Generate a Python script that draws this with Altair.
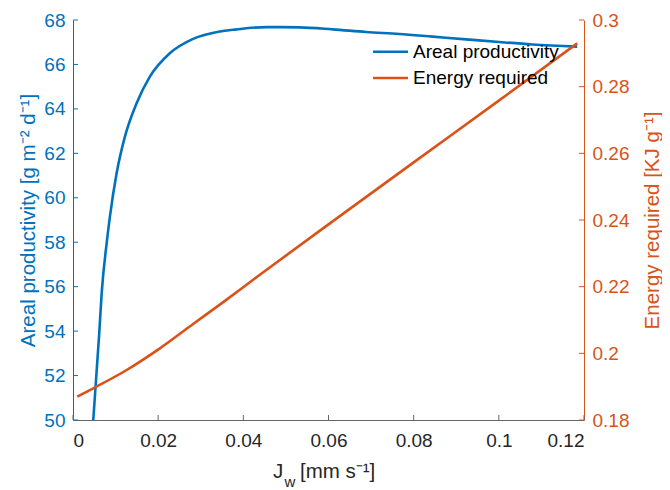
import altair as alt
import pandas as pd

# ---- data ----
jw_prod = [0.00476, 0.00616, 0.00673, 0.0079, 0.00867, 0.01024, 0.01219, 0.01493,
           0.01805, 0.02273, 0.0282, 0.03445, 0.0376, 0.0454, 0.0532, 0.061, 0.0688,
           0.0766, 0.0845, 0.0923, 0.1001, 0.1079, 0.1184]
prod = [50.0, 53.9, 55.7, 57.95, 59.15, 61.1, 62.75, 64.25,
        65.45, 66.5, 67.15, 67.48, 67.56, 67.68, 67.67, 67.58, 67.46,
        67.37, 67.25, 67.13, 67.01, 66.9, 66.8]

jw_en = [0.001, 0.00476, 0.0126, 0.0204, 0.0282, 0.0352, 0.0438, 0.06, 0.08, 0.1, 0.1184]
energy = [0.187, 0.1895, 0.195, 0.2015, 0.2088, 0.2153, 0.2235, 0.2387, 0.2573, 0.2758, 0.293]

x_ticks = [0, 0.02, 0.04, 0.06, 0.08, 0.1, 0.12]
left_ticks = [50, 52, 54, 56, 58, 60, 62, 64, 66, 68]
right_ticks = [0.18, 0.2, 0.22, 0.24, 0.26, 0.28, 0.3]

series = ["Areal productivity", "Energy required"]
BLUE = "#0072BD"
ORANGE = "#D95319"
GREY = "#262626"
FONT = "Liberation Sans"
LBL = 19
TTL = 20.5

W, H = 511, 400

df_p = pd.DataFrame({"jw": jw_prod, "val": prod, "series": series[0]})
df_e = pd.DataFrame({"jw": jw_en, "val": energy, "series": series[1]})
df_xt = pd.DataFrame({"t": x_ticks})
df_lt = pd.DataFrame({"t": left_ticks})
df_rt = pd.DataFrame({"t": right_ticks})
one = pd.DataFrame({"k": [0]})

xscale = alt.Scale(domain=[0, 0.12], nice=False, zero=False)
cscale = alt.Scale(domain=series, range=[BLUE, ORANGE])

xaxis = alt.Axis(values=x_ticks, format="~g", labelFontSize=LBL, labelFont=FONT,
                 labelColor=GREY, domainColor="#666666", tickSize=0,
                 labelPadding=11, title=None, grid=False, domainWidth=1)

blue_line = alt.Chart(df_p).mark_line(strokeWidth=2.6, interpolate="monotone").encode(
    x=alt.X("jw:Q", scale=xscale, axis=xaxis),
    y=alt.Y("val:Q", scale=alt.Scale(domain=[50, 68], nice=False, zero=False),
            axis=alt.Axis(values=left_ticks, labelFontSize=LBL, labelFont=FONT,
                          labelColor=BLUE, domainColor=BLUE, tickSize=0,
                          labelPadding=8, grid=False,
                          title="Areal productivity [g m⁻² d⁻¹]",
                          titleFontSize=TTL, titleFont=FONT, titleColor=BLUE,
                          titleFontWeight="normal", titleAngle=270,
                          titleX=-45, titleY=H / 2, titleAlign="center",
                          titleBaseline="middle")),
    color=alt.Color("series:N", scale=cscale, legend=None),
)
left_tk = alt.Chart(df_lt).mark_rule(color=BLUE, strokeWidth=1).encode(
    y=alt.Y("t:Q"), x=alt.value(0), x2=alt.value(5))
x_tk = alt.Chart(df_xt).mark_rule(color="#666666", strokeWidth=1).encode(
    x=alt.X("t:Q"), y=alt.value(H), y2=alt.value(H - 5))

left_group = alt.layer(blue_line, left_tk, x_tk)

orange_line = alt.Chart(df_e).mark_line(strokeWidth=2.6, interpolate="monotone").encode(
    x=alt.X("jw:Q", scale=xscale, axis=xaxis),
    y=alt.Y("val:Q", scale=alt.Scale(domain=[0.18, 0.3], nice=False, zero=False),
            axis=alt.Axis(values=right_ticks, format="~g", orient="right",
                          labelFontSize=LBL, labelFont=FONT,
                          labelColor=ORANGE, domainColor=ORANGE, tickSize=0,
                          labelPadding=8, grid=False,
                          title="Energy required [KJ g⁻¹]", titleAngle=270,
                          titleFontSize=TTL, titleFont=FONT, titleColor=ORANGE,
                          titleFontWeight="normal",
                          titleX=68, titleY=H / 2, titleAlign="center",
                          titleBaseline="middle")),
    color=alt.Color("series:N", scale=cscale, legend=None),
)
right_tk = alt.Chart(df_rt).mark_rule(color=ORANGE, strokeWidth=1).encode(
    y=alt.Y("t:Q"), x=alt.value(W - 5), x2=alt.value(W))

right_group = alt.layer(orange_line, right_tk)

# legend (no box), drawn as decoration
def legend_entry(name, col, y):
    ln = alt.Chart(one).mark_rule(color=col, strokeWidth=2.6).encode(
        x=alt.value(300), x2=alt.value(335), y=alt.value(y))
    tx = alt.Chart(one).mark_text(text=name, align="left", baseline="middle",
                                  fontSize=LBL, font=FONT, color="#000000").encode(
        x=alt.value(340), y=alt.value(y))
    return [ln, tx]

leg = legend_entry(series[0], BLUE, 31.7) + legend_entry(series[1], ORANGE, 58)

# x-axis title with subscript
xt_base = 458
xt_J = alt.Chart(one).mark_text(text="J", align="left", fontSize=TTL, font=FONT,
                                color=GREY, baseline="alphabetic").encode(
    x=alt.value(200), y=alt.value(xt_base))
xt_w = alt.Chart(one).mark_text(text="w", align="left", fontSize=15, font=FONT,
                                color=GREY, baseline="alphabetic").encode(
    x=alt.value(211.5), y=alt.value(xt_base + 9))
xt_rest = alt.Chart(one).mark_text(text="[mm s⁻¹]", align="left", fontSize=TTL,
                                   font=FONT, color=GREY,
                                   baseline="alphabetic").encode(
    x=alt.value(227), y=alt.value(xt_base))

chart = alt.layer(left_group, right_group, *leg, xt_J, xt_w, xt_rest).resolve_scale(
    y="independent"
).properties(
    width=W, height=H,
    autosize=alt.AutoSizeParams(type="none"),
    padding={"left": 65, "top": 12, "right": 78, "bottom": 70},
).configure_view(stroke=None)

chart.save("out.html", embed_options={"renderer": "svg", "actions": False})
